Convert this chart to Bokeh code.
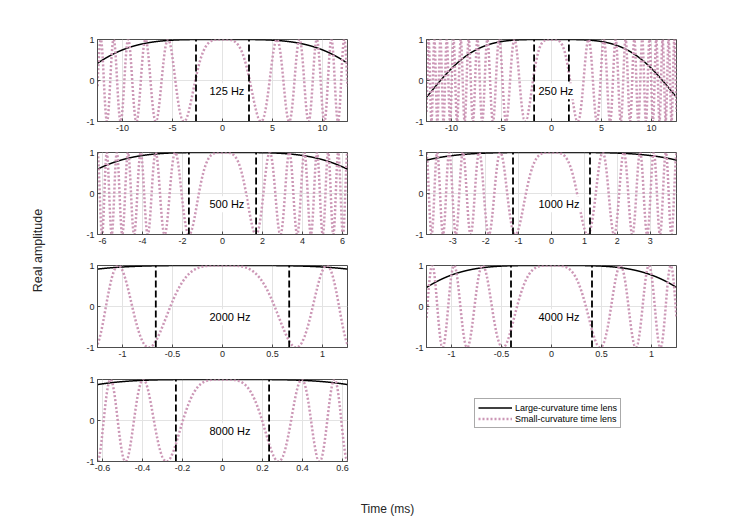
import numpy as np
from bokeh.plotting import figure
from bokeh.layouts import row, column
from bokeh.models import FixedTicker, Label, Legend, LegendItem, Range1d
from bokeh.embed import file_html
from bokeh.resources import INLINE

# ---- data ----
panel_labels = ["125 Hz", "250 Hz", "500 Hz", "1000 Hz", "2000 Hz", "4000 Hz", "8000 Hz"]
x_half = [12.5, 12.5, 6.25, 3.8, 1.25, 1.25, 0.625]            # time limits (ms)
large_curv = [0.00728, 0.01274, 0.024, 0.043, 0.27, 0.696, 1.288]  # phase curvature, large-curvature lens
small_curv = [0.212, 0.458, 1.126, 2.6, 5.78, 13.25, 40.07]        # phase curvature, small-curvature lens
aperture = [2.65, 1.74, 1.68, 1.17, 0.667, 0.405, 0.233]          # dashed-line times (ms)
x_ticks = [
    [-10, -5, 0, 5, 10],
    [-10, -5, 0, 5, 10],
    [-6, -4, -2, 0, 2, 4, 6],
    [-3, -2, -1, 0, 1, 2, 3],
    [-1, -0.5, 0, 0.5, 1],
    [-1, -0.5, 0, 0.5, 1],
    [-0.6, -0.4, -0.2, 0, 0.2, 0.4, 0.6],
]
x_tick_labels = [
    ["-10", "-5", "0", "5", "10"],
    ["-10", "-5", "0", "5", "10"],
    ["-6", "-4", "-2", "0", "2", "4", "6"],
    ["-3", "-2", "-1", "0", "1", "2", "3"],
    ["-1", "-0.5", "0", "0.5", "1"],
    ["-1", "-0.5", "0", "0.5", "1"],
    ["-0.6", "-0.4", "-0.2", "0", "0.2", "0.4", "0.6"],
]
y_ticks = [-1, 0, 1]
y_tick_labels = ["-1", "0", "1"]
legend_labels = ["Large-curvature time lens", "Small-curvature time lens"]
x_label = "Time (ms)"
y_label = "Real amplitude"

FONT = "Liberation Sans"
PINK = "#cc97b6"
AX = "#4d4d4d"
TXT = "#262626"
FW, FH = 250, 82


def make_panel(i, bl, br, bt, bb):
    h = x_half[i]
    p = figure(width=bl + FW + br, height=bt + FH + bb,
               x_range=Range1d(-h, h), y_range=Range1d(-1, 1),
               output_backend="svg", toolbar_location=None,
               min_border_left=bl, min_border_right=br,
               min_border_top=bt, min_border_bottom=bb)
    p.outline_line_color = AX
    p.outline_line_width = 1
    p.background_fill_color = "white"
    p.border_fill_color = "white"

    p.xaxis.ticker = FixedTicker(ticks=x_ticks[i])
    p.xaxis.major_label_overrides = {t: s for t, s in zip(x_ticks[i], x_tick_labels[i])}
    p.yaxis.ticker = FixedTicker(ticks=y_ticks)
    p.yaxis.major_label_overrides = {t: s for t, s in zip(y_ticks, y_tick_labels)}
    for ax in (p.xaxis, p.yaxis):
        ax.axis_line_color = AX
        ax.major_tick_line_color = AX
        ax.major_tick_in = 3
        ax.major_tick_out = 0
        ax.minor_tick_line_color = None
        ax.major_label_text_font = FONT
        ax.major_label_text_font_size = "9px"
        ax.major_label_text_color = TXT
    p.xaxis.major_label_standoff = 3
    p.yaxis.major_label_standoff = 3
    p.grid.grid_line_color = "#e3e3e3"
    p.grid.grid_line_width = 1

    t = np.linspace(-h, h, 4000)
    p.line(t, np.cos(large_curv[i] * t ** 2), line_color="black", line_width=1.5)
    p.line(t, np.cos(small_curv[i] * t ** 2), line_color=PINK, line_width=2.5, line_dash="2 2")
    d = aperture[i]
    p.segment(x0=[-d, d], y0=[-1, -1], x1=[-d, d], y1=[1, 1],
              line_color="black", line_width=1.8, line_dash="7 3")

    p.add_layout(Label(x=0, y=-0.26, x_offset=-15, text=panel_labels[i],
                       text_align="left", text_baseline="middle",
                       text_font=FONT, text_font_size="11px", text_color="black",
                       background_fill_color="white", padding=2))
    return p


# borders (px) for the grid of panels
YW = 68              # width of the y-label strip
LB, LR = 29, 40      # left column
RB, RR = 39, 40      # right column
rows_tb = [(39, 20), (11, 20), (11, 20), (12, 20)]
XH = 36              # height of the x-label strip

panels = []
for i in range(7):
    r, c = divmod(i, 2)
    bt, bb = rows_tb[r]
    if c == 0:
        panels.append(make_panel(i, LB, LR, bt, bb))
    else:
        panels.append(make_panel(i, RB, RR, bt, bb))

# legend panel (8th slot)
bt, bb = rows_tb[3]
leg = figure(width=RB + FW + RR, height=bt + FH + bb,
             x_range=Range1d(0, 1), y_range=Range1d(0, 1),
             output_backend="svg", toolbar_location=None,
             x_axis_location=None, y_axis_location=None,
             min_border_left=RB, min_border_right=RR,
             min_border_top=bt, min_border_bottom=bb)
leg.outline_line_color = None
leg.grid.visible = False
r1 = leg.line([np.nan], [np.nan], line_color="black", line_width=1.5)
r2 = leg.line([np.nan], [np.nan], line_color=PINK, line_width=2.5, line_dash="2 2")
legend = Legend(items=[LegendItem(label=legend_labels[0], renderers=[r1]),
                       LegendItem(label=legend_labels[1], renderers=[r2])],
                location=(48, 33), orientation="vertical",
                glyph_width=34, glyph_height=11, label_height=11,
                label_standoff=3, padding=3, spacing=0, margin=0,
                label_text_font=FONT, label_text_font_size="9px",
                label_text_color="black",
                border_line_color="#555555", border_line_width=1,
                background_fill_color="white", background_fill_alpha=1)
leg.add_layout(legend)

grid_w = LB + FW + LR + RB + FW + RR

# x label strip
xfig = figure(width=grid_w, height=XH, x_range=Range1d(0, grid_w), y_range=Range1d(0, XH),
              output_backend="svg", toolbar_location=None,
              x_axis_location=None, y_axis_location=None,
              min_border_left=0, min_border_right=0, min_border_top=0, min_border_bottom=0)
xfig.outline_line_color = None
xfig.grid.visible = False
xfig.add_layout(Label(x=387 - YW, y=9, text=x_label, text_align="center",
                      text_baseline="middle", text_font=FONT,
                      text_font_size="12px", text_color=TXT))

total_h = sum(a + FH + b for a, b in rows_tb) + XH

# y label strip
yfig = figure(width=YW, height=total_h, x_range=Range1d(0, YW), y_range=Range1d(0, total_h),
              output_backend="svg", toolbar_location=None,
              x_axis_location=None, y_axis_location=None,
              min_border_left=0, min_border_right=0, min_border_top=0, min_border_bottom=0)
yfig.outline_line_color = None
yfig.grid.visible = False
yfig.add_layout(Label(x=37.5, y=total_h - 250, text=y_label, angle=np.pi / 2,
                      text_align="center", text_baseline="middle", text_font=FONT,
                      text_font_size="12.5px", text_color=TXT))

layout = row(yfig, column(row(panels[0], panels[1]),
                          row(panels[2], panels[3]),
                          row(panels[4], panels[5]),
                          row(panels[6], leg),
                          xfig))

open("out.html", "w").write(file_html(layout, INLINE))
